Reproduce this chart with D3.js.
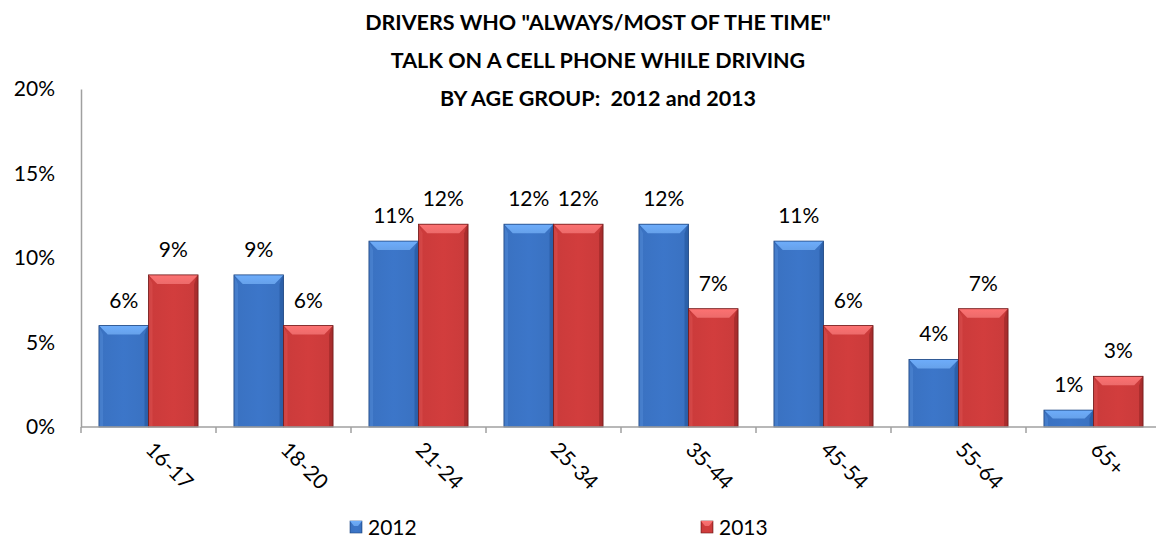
<!DOCTYPE html>
<html>
<head>
<meta charset="utf-8">
<script src="https://cdn.jsdelivr.net/npm/d3@7"></script>
<style>
  html, body { margin: 0; padding: 0; background: #fff; }
  svg { display: block; font-family: Lato, "Open Sans", sans-serif; }
  .title text { white-space: pre; }
</style>
</head>
<body>
<svg id="chart" width="1156" height="540"></svg>
<script>
// Share of drivers who talk on a cell phone "always/most of the time", by age group
const categories = ["16-17", "18-20", "21-24", "25-34", "35-44", "45-54", "55-64", "65+"];
const seriesNames = ["2012", "2013"];
const values2012 = [0.06, 0.09, 0.11, 0.12, 0.12, 0.11, 0.04, 0.01];
const values2013 = [0.09, 0.06, 0.12, 0.12, 0.07, 0.06, 0.07, 0.03];
const yTicks = [0, 0.05, 0.10, 0.15, 0.20];
const titleLines = [
  'DRIVERS WHO "ALWAYS/MOST OF THE TIME"',
  'TALK ON A CELL PHONE WHILE DRIVING',
  'BY AGE GROUP:  2012 and 2013'
];

const seriesValues = [values2012, values2013];
const palette = {
  "2012": { base: "#3a72c2", light: "#66a1ea", side: "#4a82d0", dark: "#2b5ea6", edge: "#1f4680" },
  "2013": { base: "#cb3b3b", light: "#ec6a6a", side: "#d64a4a", dark: "#a52c2c", edge: "#6e1a1a" }
};

const svg = d3.select("#chart");
const defs = svg.append("defs");

// Shading for the bevelled bars
seriesNames.forEach(s => {
  const c = palette[s];
  const g = defs.append("linearGradient").attr("id", "body-" + s)
    .attr("x1", "0").attr("x2", "1").attr("y1", "0").attr("y2", "0");
  g.append("stop").attr("offset", "0").attr("stop-color", c.dark);
  g.append("stop").attr("offset", "0.06").attr("stop-color", c.base);
  g.append("stop").attr("offset", "0.5").attr("stop-color", d3.color(c.base).brighter(0.1));
  g.append("stop").attr("offset", "0.92").attr("stop-color", c.base);
  g.append("stop").attr("offset", "1").attr("stop-color", c.dark);
  const t = defs.append("linearGradient").attr("id", "top-" + s)
    .attr("x1", "0").attr("x2", "0").attr("y1", "0").attr("y2", "1");
  t.append("stop").attr("offset", "0").attr("stop-color", d3.color(c.light).brighter(0.2));
  t.append("stop").attr("offset", "1").attr("stop-color", c.light);
});

const plot = { left: 81, right: 1161, top: 89, bottom: 427 };

const x = d3.scaleBand().domain(categories).range([plot.left, plot.right]).padding(0);
const groupPad = x.bandwidth() * 0.133;
const xs = d3.scaleBand().domain(seriesNames)
  .range([groupPad, x.bandwidth() - groupPad]).padding(0);
const y = d3.scaleLinear().domain([0, 0.2]).range([plot.bottom, plot.top]);

const axisColor = "#a0a0a0";

// Y axis: labels only, plus the vertical rule
const yAxis = svg.append("g")
  .attr("transform", `translate(${plot.left},0)`)
  .call(d3.axisLeft(y).tickValues(yTicks).tickSize(0).tickPadding(26)
    .tickFormat(d3.format(".0%")));
yAxis.select(".domain").attr("stroke", axisColor).attr("stroke-width", 1.5);
yAxis.selectAll("text").attr("font-size", 21).attr("fill", "#000")
  .attr("font-family", "Lato, sans-serif");

// Bars
const rows = categories.map((c, i) => ({ cat: c, vals: seriesNames.map((s, j) => ({ s, v: seriesValues[j][i] })) }));
const groups = svg.append("g").selectAll("g").data(rows).join("g")
  .attr("transform", d => `translate(${x(d.cat)},0)`);

groups.each(function(d) {
  const g = d3.select(this);
  d.vals.forEach(({ s, v }) => {
    const x0 = xs(s), w = xs.bandwidth();
    const yTop = y(v), yBot = y(0), h = yBot - yTop;
    const c = palette[s];
    const bev = Math.min(9, h / 2);
    const sb = 4;
    g.append("rect").attr("x", x0).attr("y", yTop).attr("width", w).attr("height", h)
      .attr("fill", `url(#body-${s})`);
    // left and right side facets
    g.append("path")
      .attr("d", `M${x0},${yTop} L${x0 + sb},${yTop + bev} L${x0 + sb},${yBot} L${x0},${yBot} Z`)
      .attr("fill", c.side).attr("opacity", 0.8);
    g.append("path")
      .attr("d", `M${x0 + w},${yTop} L${x0 + w - sb},${yTop + bev} L${x0 + w - sb},${yBot} L${x0 + w},${yBot} Z`)
      .attr("fill", c.dark).attr("opacity", 0.8);
    // top facet
    g.append("path")
      .attr("d", `M${x0},${yTop} L${x0 + w},${yTop} L${x0 + w - sb * 2.2},${yTop + bev} L${x0 + sb * 2.2},${yTop + bev} Z`)
      .attr("fill", `url(#top-${s})`);
    g.append("rect").attr("x", x0).attr("y", yTop).attr("width", w).attr("height", h)
      .attr("fill", "none").attr("stroke", c.edge).attr("stroke-width", 0.8);
    g.append("text")
      .attr("x", x0 + w / 2).attr("y", yTop - 18)
      .attr("text-anchor", "middle").attr("font-size", 21).attr("fill", "#000")
      .text(d3.format(".0%")(v));
  });
});

// X axis: baseline with category boundary ticks
const xAxis = svg.append("g").attr("transform", `translate(0,${plot.bottom})`);
xAxis.append("line").attr("x1", plot.left).attr("x2", plot.right)
  .attr("stroke", axisColor).attr("stroke-width", 1.5);
xAxis.selectAll("line.tick").data(d3.range(categories.length + 1)).join("line")
  .attr("class", "tick")
  .attr("x1", i => plot.left + i * x.step()).attr("x2", i => plot.left + i * x.step())
  .attr("y1", 0).attr("y2", 6).attr("stroke", axisColor).attr("stroke-width", 1.5);
xAxis.selectAll("text").data(categories).join("text")
  .attr("transform", d => `translate(${x(d) + x.bandwidth() / 2 - 4},${24}) rotate(45)`)
  .attr("text-anchor", "start").attr("font-size", 21).attr("fill", "#000")
  .text(d => d);

// Title
svg.append("g").attr("class", "title").selectAll("text").data(titleLines).join("text")
  .attr("x", 598).attr("y", (d, i) => 30 + i * 38)
  .attr("text-anchor", "middle").attr("font-size", 21.5).attr("font-weight", "bold")
  .attr("fill", "#000").text(d => d);

// Legend
const legendX = [350, 701];
const legend = svg.append("g").selectAll("g").data(seriesNames).join("g")
  .attr("transform", (d, i) => `translate(${legendX[i]},521)`);
legend.append("rect").attr("width", 12).attr("height", 12)
  .attr("fill", d => `url(#body-${d})`).attr("stroke", d => palette[d].edge).attr("stroke-width", 0.6);
legend.append("path").attr("d", "M0,0 L12,0 L8,5 L4,5 Z").attr("fill", d => `url(#top-${d})`);
legend.append("text").attr("x", 18).attr("y", 13.5).attr("font-size", 21).attr("fill", "#000")
  .text(d => d);
</script>
</body>
</html>
